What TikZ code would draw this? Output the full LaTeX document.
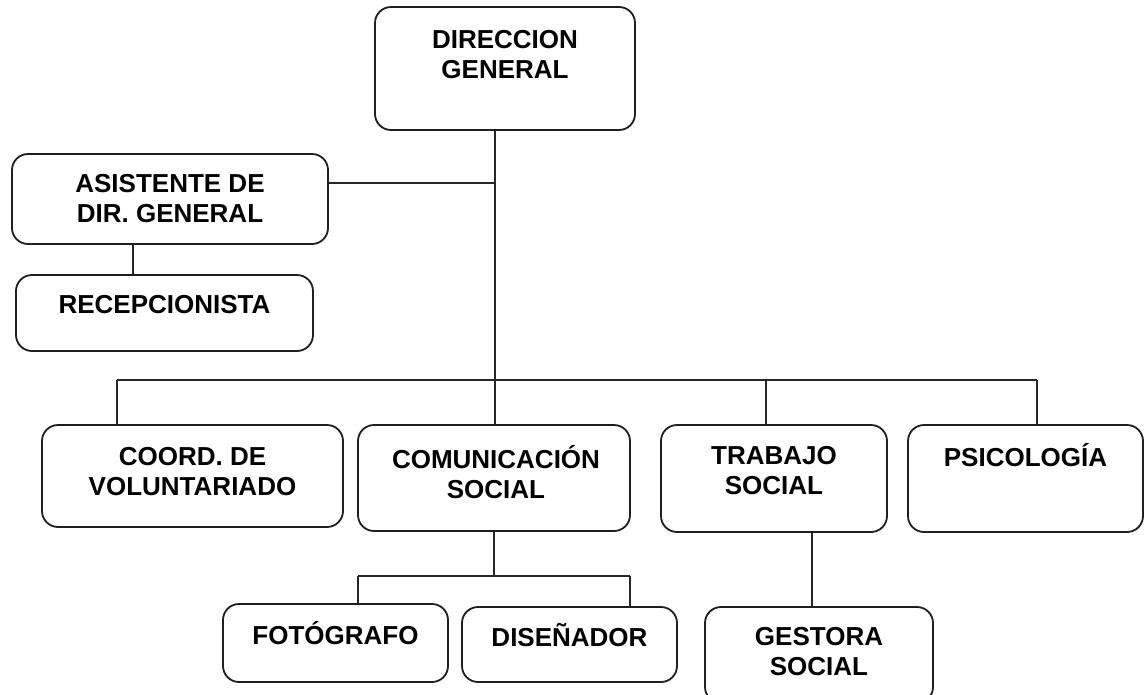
\documentclass[tikz,border=0pt]{standalone}
\usepackage{fontspec}
\setmainfont{Liberation Sans}
\begin{document}
\begin{tikzpicture}[x=1pt,y=-1pt,
  box/.style={draw=black!88, line width=1.8pt, rounded corners=16pt, inner sep=0pt},
  lbl/.style={font=\bfseries\fontsize{26}{30}\selectfont, align=center, inner sep=0pt, text=black},
  conn/.style={draw=black!85, line width=1.8pt}]
\useasboundingbox (0,0) rectangle (1144,694);
\clip (0,0) rectangle (1144,694);
% boxes
\node[box, minimum width=260pt, minimum height=123pt] (dg) at (505,68.5) {};
\node[lbl] (dgt) at (505,55) {DIRECCION\\GENERAL};
\node[box, minimum width=316pt, minimum height=90pt] (asi) at (170,199) {};
\node[lbl] (asit) at (170,199) {ASISTENTE DE\\DIR. GENERAL};
\node[box, minimum width=297pt, minimum height=76pt] (rec) at (164.5,313) {};
\node[lbl] (rect) at (164.5,305) {RECEPCIONISTA};
\node[box, minimum width=301pt, minimum height=102pt] (coo) at (192.5,476) {};
\node[lbl] (coot) at (192.5,472) {COORD. DE\\VOLUNTARIADO};
\node[box, minimum width=272pt, minimum height=106pt] (com) at (494,478) {};
\node[lbl] (comt) at (496,472) {COMUNICACIÓN\\SOCIAL};
\node[box, minimum width=226pt, minimum height=107pt] (tra) at (774,478.5) {};
\node[lbl] (trat) at (774,471) {TRABAJO\\SOCIAL};
\node[box, minimum width=235pt, minimum height=107pt] (psi) at (1025.5,478.5) {};
\node[lbl] (psit) at (1025.5,455) {PSICOLOGÍA};
\node[box, minimum width=225pt, minimum height=78pt] (fot) at (335.5,643) {};
\node[lbl] (fott) at (335.5,633) {FOTÓGRAFO};
\node[box, minimum width=215pt, minimum height=75pt] (dis) at (569.5,644.5) {};
\node[lbl] (dist) at (569.5,635) {DISEÑADOR};
\node[box, minimum width=228pt, minimum height=96pt] (ges) at (819,655) {};
\node[lbl] (gest) at (819,652) {GESTORA\\SOCIAL};
% junctions
\coordinate (j1) at (495,183);
\coordinate (j2) at (495,380);
\coordinate (bL) at (117,380);
\coordinate (bT) at (766,380);
\coordinate (bR) at (1037,380);
\coordinate (cJ) at (494,576);
\coordinate (cL) at (358,576);
\coordinate (cR) at (630,576);
\coordinate (aJ) at (133,244);
\coordinate (tJ) at (812,532);
% connectors
\draw[conn] (j2 |- dg.south) -- (j2);
\draw[conn] (asi.east |- j1) -- (j1);
\draw[conn] (aJ |- asi.south) -- (aJ |- rec.north);
\draw[conn] (bL) -- (bR);
\draw[conn] (bL) -- (bL |- coo.north);
\draw[conn] (j2) -- (j2 |- com.north);
\draw[conn] (bT) -- (bT |- tra.north);
\draw[conn] (bR) -- (bR |- psi.north);
\draw[conn] (cJ |- com.south) -- (cJ);
\draw[conn] (cL) -- (cR);
\draw[conn] (cL) -- (cL |- fot.north);
\draw[conn] (cR) -- (cR |- dis.north);
\draw[conn] (tJ |- tra.south) -- (tJ |- ges.north);
\end{tikzpicture}
\end{document}
